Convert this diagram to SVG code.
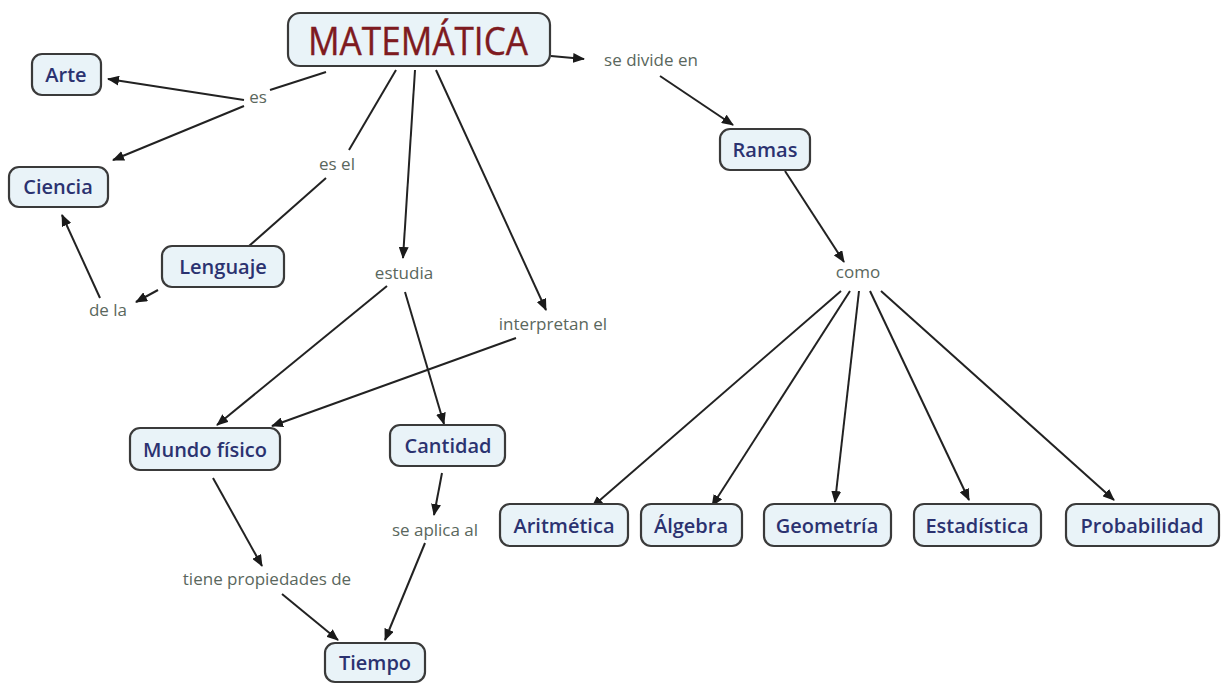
<svg xmlns="http://www.w3.org/2000/svg" width="1222" height="684" viewBox="0 0 1222 684">
  <style>
    .box { fill: #e9f3f8; stroke: #3a3a3a; stroke-width: 2.2; }
    .name { font-family: "Open Sans", "Noto Sans", sans-serif; font-weight: 600; font-size: 20px; fill: #2b3270; text-anchor: middle; }
    .title { font-family: "Open Sans", "Noto Sans", sans-serif; font-size: 39px; fill: #7e1a20; text-anchor: middle; stroke: #7e1a20; stroke-width: 0.4; }
    .lbl { font-family: "Open Sans", "Noto Sans", sans-serif; font-size: 17px; fill: #5a675d; text-anchor: middle; }
    .edge { fill: none; stroke: #222; stroke-width: 2; }
    .arr { marker-end: url(#head); }
  </style>
  <defs>
    <marker id="head" viewBox="0 0 12 10" refX="11" refY="5" markerWidth="12" markerHeight="10" markerUnits="userSpaceOnUse" orient="auto">
      <path d="M0,0 L12,5 L0,10 Z" fill="#1a1a1a"/>
    </marker>
  </defs>
  <rect width="1222" height="684" fill="#ffffff"/>

  <g id="connectors">
    <!-- MATEMÁTICA es Arte / Ciencia -->
    <line class="edge" x1="326" y1="72" x2="270" y2="90"/>
    <line class="edge arr" x1="244" y1="100" x2="108" y2="79"/>
    <line class="edge arr" x1="244" y1="106" x2="113" y2="160"/>
    <!-- es el Lenguaje -->
    <line class="edge" x1="396" y1="70" x2="349" y2="150"/>
    <line class="edge" x1="326" y1="178" x2="249" y2="246"/>
    <!-- Lenguaje de la Ciencia -->
    <line class="edge arr" x1="158" y1="290" x2="136" y2="302"/>
    <line class="edge arr" x1="100" y1="298" x2="62" y2="215"/>
    <!-- estudia -->
    <line class="edge arr" x1="415" y1="70" x2="403" y2="258"/>
    <line class="edge arr" x1="387" y1="286" x2="217" y2="425"/>
    <line class="edge arr" x1="405" y1="292" x2="444" y2="424"/>
    <!-- interpretan el -->
    <line class="edge arr" x1="436" y1="70" x2="546" y2="310"/>
    <line class="edge arr" x1="516" y1="338" x2="272" y2="426"/>
    <!-- Mundo físico / Cantidad / Tiempo -->
    <line class="edge arr" x1="213" y1="478" x2="262" y2="566"/>
    <line class="edge arr" x1="282" y1="594" x2="338" y2="640"/>
    <line class="edge arr" x1="442" y1="473" x2="434" y2="515"/>
    <line class="edge arr" x1="425" y1="543" x2="385" y2="640"/>
    <!-- se divide en Ramas como -->
    <line class="edge arr" x1="551" y1="56" x2="584" y2="59"/>
    <line class="edge arr" x1="660" y1="76" x2="733" y2="125"/>
    <line class="edge arr" x1="785" y1="171" x2="844" y2="262"/>
    <!-- como fan-out -->
    <line class="edge arr" x1="841" y1="291" x2="592" y2="507"/>
    <line class="edge arr" x1="850" y1="291" x2="712" y2="506"/>
    <line class="edge arr" x1="859" y1="291" x2="835" y2="502"/>
    <line class="edge arr" x1="870" y1="291" x2="969" y2="500"/>
    <line class="edge arr" x1="881" y1="291" x2="1114" y2="500"/>
  </g>

  <g id="labels">
    <text class="lbl" x="258" y="103">es</text>
    <text class="lbl" x="337" y="170">es el</text>
    <text class="lbl" x="108" y="316">de la</text>
    <text class="lbl" x="404" y="279">estudia</text>
    <text class="lbl" x="553" y="330">interpretan el</text>
    <text class="lbl" x="651" y="66">se divide en</text>
    <text class="lbl" x="858" y="278">como</text>
    <text class="lbl" x="435" y="536">se aplica al</text>
    <text class="lbl" x="267" y="585">tiene propiedades de</text>
  </g>

  <g id="node-matematica">
    <rect class="box" x="288" y="13" width="262" height="53" rx="12"/>
    <text class="title" x="418" y="55" textLength="220" lengthAdjust="spacingAndGlyphs">MATEMÁTICA</text>
  </g>
  <g id="node-arte">
    <rect class="box" x="32" y="54" width="69" height="41" rx="10"/>
    <text class="name" x="66" y="82">Arte</text>
  </g>
  <g id="node-ciencia">
    <rect class="box" x="9" y="167" width="99" height="40" rx="10"/>
    <text class="name" x="58" y="194">Ciencia</text>
  </g>
  <g id="node-lenguaje">
    <rect class="box" x="162" y="246" width="122" height="41" rx="10"/>
    <text class="name" x="223" y="274">Lenguaje</text>
  </g>
  <g id="node-mundo">
    <rect class="box" x="130" y="428" width="150" height="42" rx="10"/>
    <text class="name" x="205" y="457">Mundo físico</text>
  </g>
  <g id="node-cantidad">
    <rect class="box" x="390" y="425" width="115" height="41" rx="10"/>
    <text class="name" x="448" y="453">Cantidad</text>
  </g>
  <g id="node-tiempo">
    <rect class="box" x="325" y="643" width="100" height="39" rx="10"/>
    <text class="name" x="375" y="670">Tiempo</text>
  </g>
  <g id="node-ramas">
    <rect class="box" x="720" y="129" width="90" height="41" rx="10"/>
    <text class="name" x="765" y="157">Ramas</text>
  </g>
  <g id="node-aritmetica">
    <rect class="box" x="500" y="504" width="128" height="42" rx="10"/>
    <text class="name" x="564" y="533">Aritmética</text>
  </g>
  <g id="node-algebra">
    <rect class="box" x="641" y="504" width="101" height="42" rx="10"/>
    <text class="name" x="691" y="533">Álgebra</text>
  </g>
  <g id="node-geometria">
    <rect class="box" x="764" y="504" width="127" height="42" rx="10"/>
    <text class="name" x="827" y="533">Geometría</text>
  </g>
  <g id="node-estadistica">
    <rect class="box" x="914" y="504" width="127" height="42" rx="10"/>
    <text class="name" x="977" y="533">Estadística</text>
  </g>
  <g id="node-probabilidad">
    <rect class="box" x="1066" y="504" width="153" height="42" rx="10"/>
    <text class="name" x="1142" y="533">Probabilidad</text>
  </g>
</svg>
